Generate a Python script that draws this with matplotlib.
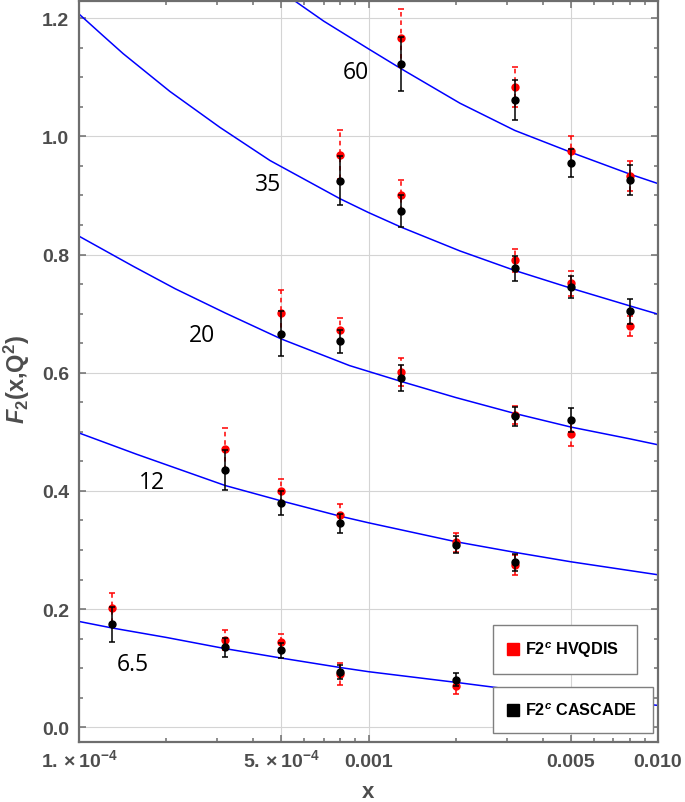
import numpy as np
import matplotlib
matplotlib.use('Agg')
import matplotlib.pyplot as plt
from matplotlib.lines import Line2D
from matplotlib.ticker import FixedLocator, FixedFormatter

plt.rcParams['font.family'] = ['Liberation Sans', 'DejaVu Sans']
plt.rcParams['font.weight'] = 'bold'
plt.rcParams['mathtext.fontset'] = 'custom'
plt.rcParams['mathtext.rm'] = 'Liberation Sans:bold'
plt.rcParams['mathtext.it'] = 'Liberation Sans:italic:bold'
plt.rcParams['mathtext.bf'] = 'Liberation Sans:bold'

# --- theory curves (blue) ---
q2_labels = ['6.5', '12', '20', '35', '60']

curve_x_65 = [1e-4, 1.3e-4, 2e-4, 3.2e-4, 5e-4, 8e-4, 1e-3, 2e-3, 5e-3, 1e-2]
curve_y_65 = [0.179, 0.168, 0.152, 0.133, 0.117, 0.101, 0.094, 0.076, 0.051, 0.037]

curve_x_12 = [1e-4, 1.58e-4, 3.2e-4, 5e-4, 8e-4, 1e-3, 2e-3, 3.2e-3, 5e-3, 1e-2]
curve_y_12 = [0.498, 0.462, 0.409, 0.383, 0.357, 0.346, 0.314, 0.296, 0.280, 0.258]

curve_x_20 = [1e-4, 1.54e-4, 2.15e-4, 3.2e-4, 5e-4, 8.6e-4, 1.3e-3, 2e-3, 3.2e-3, 5e-3, 8e-3, 1e-2]
curve_y_20 = [0.831, 0.780, 0.742, 0.701, 0.657, 0.612, 0.585, 0.558, 0.531, 0.508, 0.488, 0.478]

curve_x_35 = [1e-4, 1.2e-4, 1.42e-4, 2.06e-4, 3.07e-4, 4.57e-4, 8e-4, 1e-3, 1.3e-3, 2.07e-3,
              3.2e-3, 5e-3, 8e-3, 1e-2]
curve_y_35 = [1.207, 1.172, 1.140, 1.076, 1.015, 0.959, 0.894, 0.871, 0.846, 0.806,
              0.773, 0.743, 0.713, 0.699]

curve_x_60 = [5e-4, 7e-4, 1e-3, 1.3e-3, 2.07e-3, 3.2e-3, 5e-3, 8e-3, 1e-2]
curve_y_60 = [1.245, 1.195, 1.148, 1.114, 1.056, 1.010, 0.973, 0.936, 0.920]

# --- data points: HVQDIS (red) and CASCADE (black) ---
pts_x_65 = [1.3e-4, 3.2e-4, 5e-4, 8e-4, 2e-3]
hvq_65 = [0.202, 0.148, 0.144, 0.090, 0.069]
hvq_err_65 = [0.025, 0.017, 0.014, 0.019, 0.012]
cas_65 = [0.174, 0.135, 0.130, 0.093, 0.080]
cas_err_65 = [0.030, 0.016, 0.013, 0.012, 0.011]

pts_x_12 = [3.2e-4, 5e-4, 8e-4, 2e-3, 3.2e-3]
hvq_12 = [0.471, 0.400, 0.360, 0.313, 0.275]
hvq_err_12 = [0.035, 0.020, 0.018, 0.016, 0.017]
cas_12 = [0.436, 0.380, 0.345, 0.309, 0.279]
cas_err_12 = [0.034, 0.020, 0.016, 0.014, 0.014]

pts_x_20 = [5e-4, 8e-4, 1.3e-3, 3.2e-3, 5e-3]
hvq_20 = [0.701, 0.672, 0.601, 0.529, 0.496]
hvq_err_20 = [0.039, 0.020, 0.024, 0.015, 0.020]
cas_20 = [0.666, 0.653, 0.591, 0.526, 0.520]
cas_err_20 = [0.038, 0.020, 0.022, 0.016, 0.021]

pts_x_35 = [8e-4, 1.3e-3, 3.2e-3, 5e-3, 8e-3]
hvq_35 = [0.969, 0.900, 0.790, 0.751, 0.679]
hvq_err_35 = [0.042, 0.026, 0.019, 0.021, 0.017]
cas_35 = [0.925, 0.873, 0.777, 0.745, 0.704]
cas_err_35 = [0.042, 0.027, 0.021, 0.019, 0.021]

pts_x_60 = [1.3e-3, 3.2e-3, 5e-3, 8e-3]
hvq_60 = [1.166, 1.084, 0.976, 0.933]
hvq_err_60 = [0.049, 0.034, 0.025, 0.026]
cas_60 = [1.122, 1.061, 0.955, 0.926]
cas_err_60 = [0.046, 0.034, 0.024, 0.025]

x_major = [1e-4, 5e-4, 1e-3, 5e-3, 1e-2]
x_major_labels = [r'1.$\,\times$10$^{-4}$', r'5.$\,\times$10$^{-4}$', '0.001', '0.005', '0.010']
y_major = [0.0, 0.2, 0.4, 0.6, 0.8, 1.0, 1.2]
y_major_labels = ['0.0', '0.2', '0.4', '0.6', '0.8', '1.0', '1.2']

curves = [(curve_x_65, curve_y_65), (curve_x_12, curve_y_12), (curve_x_20, curve_y_20),
          (curve_x_35, curve_y_35), (curve_x_60, curve_y_60)]
points = [(pts_x_65, hvq_65, hvq_err_65, cas_65, cas_err_65),
          (pts_x_12, hvq_12, hvq_err_12, cas_12, cas_err_12),
          (pts_x_20, hvq_20, hvq_err_20, cas_20, cas_err_20),
          (pts_x_35, hvq_35, hvq_err_35, cas_35, cas_err_35),
          (pts_x_60, hvq_60, hvq_err_60, cas_60, cas_err_60)]
# where the Q^2 labels sit (data coords)
label_pos = [(1.54e-4, 0.107), (1.79e-4, 0.415), (2.66e-4, 0.663), (4.51e-4, 0.919), (9.06e-4, 1.109)]

GRAY = '#4d4d4d'
FRAME = '#6e6e6e'

fig = plt.figure(figsize=(6.85, 8.03), dpi=100)
ax = fig.add_axes([79/685, 1 - 743/803, (658 - 79)/685, (743 - 2)/803])
ax.set_xscale('log')
ax.set_xlim(1e-4, 1e-2)
ax.set_ylim(-0.025, 1.229)

for cx, cy in curves:
    ax.plot(cx, cy, color='#0000ff', linewidth=1.1, zorder=2)

for px, hv, hv_e, cs, cs_e in points:
    eb = ax.errorbar(px, hv, yerr=hv_e, fmt='o', color='#ff0000', markersize=5,
                     elinewidth=1.1, capsize=2.4, capthick=1.1, zorder=3)
    eb[2][0].set_linestyle((0, (3, 2.5)))
    ax.errorbar(px, cs, yerr=cs_e, fmt='o', color='black', markersize=5,
                elinewidth=1.1, capsize=2.4, capthick=1.1, zorder=4)

for (lx, ly), txt in zip(label_pos, q2_labels):
    ax.text(lx, ly, txt, fontsize=16.5, family=['Open Sans', 'DejaVu Sans'], fontweight='normal',
            ha='center', va='center', color='black', zorder=5)

# axes, ticks and grid
ax.xaxis.set_major_locator(FixedLocator(x_major))
ax.xaxis.set_major_formatter(FixedFormatter(x_major_labels))
ax.xaxis.set_minor_locator(FixedLocator([k * 10.0**e for e in (-4, -3) for k in (2, 3, 4, 6, 7, 8, 9)]))
ax.xaxis.set_minor_formatter(FixedFormatter([]))
ax.yaxis.set_major_locator(FixedLocator(y_major))
ax.yaxis.set_major_formatter(FixedFormatter(y_major_labels))
ax.yaxis.set_minor_locator(FixedLocator(np.arange(-0.0, 1.25, 0.05)))

ax.grid(True, which='major', color='#d4d4d4', linewidth=0.8, zorder=0)
ax.set_axisbelow(True)
for sp in ax.spines.values():
    sp.set_color(FRAME)
    sp.set_linewidth(1.6)
ax.tick_params(which='both', direction='in', top=True, right=True, color=FRAME, width=1.1)
ax.tick_params(which='major', length=5)
ax.tick_params(which='minor', length=3)
ax.tick_params(axis='y', which='major', labelsize=14, labelcolor=GRAY, pad=7)
ax.tick_params(axis='x', which='major', labelsize=14, labelcolor=GRAY, pad=17)
for lab in ax.get_xticklabels():
    lab.set_verticalalignment('baseline')

ax.set_xlabel('x', fontsize=16, fontweight='bold', color=GRAY)
ax.xaxis.set_label_coords(0.5, -0.053)
ax.set_ylabel(r'$F_2$(x,Q$^2$)', fontsize=17, fontweight='bold', color=GRAY)
ax.yaxis.set_label_coords(-0.081, 0.49)

# two separate legend boxes
h_red = Line2D([], [], marker='s', color='#ff0000', linestyle='none', markersize=8.6)
h_blk = Line2D([], [], marker='s', color='black', linestyle='none', markersize=8.6)
leg_kw = dict(loc='lower left', mode='expand', fancybox=False, framealpha=1,
              edgecolor='#7f7f7f', borderpad=0.9, borderaxespad=0, handlelength=0.7,
              handletextpad=0.35,
              prop={'family': 'Liberation Sans', 'weight': 'bold', 'size': 11.7})
leg1 = ax.legend(handles=[h_red], labels=[r'F2$^{c}$ HVQDIS'],
                 bbox_to_anchor=(0.715, 0.092, 0.249, 0.067), **leg_kw)
leg1.get_frame().set_linewidth(1.0)
leg1.set_zorder(6)
ax.add_artist(leg1)
leg2 = ax.legend(handles=[h_blk], labels=[r'F2$^{c}$ CASCADE'],
                 bbox_to_anchor=(0.715, 0.012, 0.276, 0.069), **leg_kw)
leg2.get_frame().set_linewidth(1.0)
leg2.set_zorder(6)

fig.savefig('out.png', dpi=100, facecolor='white')
